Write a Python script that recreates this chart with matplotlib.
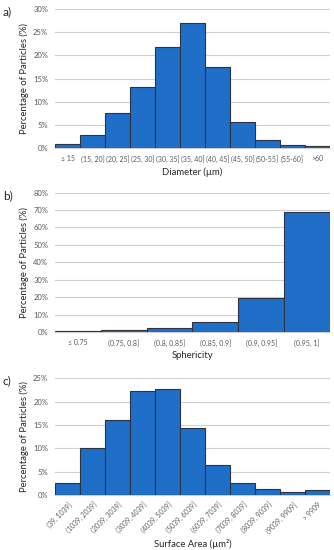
import numpy as np
import matplotlib.pyplot as plt
from matplotlib.ticker import PercentFormatter

plt.rcParams['font.family'] = ['Lato', 'DejaVu Sans']

# a) diameter
diam_cats = ['≤ 15', '(15, 20]', '(20, 25]', '(25, 30]', '(30, 35]', '(35, 40]',
             '(40, 45]', '(45, 50]', '(50-55]', '(55-60]', '>60']
diam_vals = [0.95, 2.8, 7.6, 13.2, 21.7, 27.0, 17.4, 5.7, 1.8, 0.7, 0.4]

# b) sphericity
sph_cats = ['≤ 0.75', '(0.75, 0.8]', '(0.8, 0.85]', '(0.85, 0.9]', '(0.9, 0.95]', '(0.95, 1]']
sph_vals = [0.8, 0.9, 2.1, 5.9, 19.3, 68.9]

# c) surface area
area_cats = ['(39, 1039]', '(1039, 2039]', '(2039, 3039]', '(3039, 4039]', '(4039, 5039]',
             '(5039, 6039]', '(6039, 7039]', '(7039, 8039]', '(8039, 9039]', '(9039, 9909]', '> 9909']
area_vals = [2.5, 10.1, 16.1, 22.3, 22.6, 14.4, 6.4, 2.5, 1.2, 0.6, 1.0]

bar_col = '#1F6FC8'
edge_col = '#2B3440'
tick_col = '#595959'

fig = plt.figure(figsize=(3.34, 5.5), dpi=100)

panels = [
    (diam_cats, diam_vals, 'Diameter (µm)', 30, 5, [0.1647, 0.7309, 0.823, 0.2527], 'a)', 0),
    (sph_cats, sph_vals, 'Sphericity', 80, 10, [0.1647, 0.3964, 0.823, 0.2533], 'b)', 0),
    (area_cats, area_vals, 'Surface Area (µm²)', 25, 5, [0.1647, 0.1, 0.823, 0.2122], 'c)', 45),
]

for cats, vals, xlabel, ymax, step, pos, tag, rot in panels:
    ax = fig.add_axes(pos)
    x = np.arange(len(cats))
    ax.bar(x, vals, width=1.0, color=bar_col, edgecolor=edge_col, linewidth=0.8, zorder=3)
    ax.set_xlim(-0.5, len(cats) - 0.5)
    ax.set_ylim(0, ymax)
    ax.set_yticks(np.arange(0, ymax + 0.1, step))
    ax.yaxis.set_major_formatter(PercentFormatter(decimals=0))
    ax.grid(axis='y', color='#D0D0D0', linewidth=0.8, zorder=0)
    for s in ['top', 'right', 'left']:
        ax.spines[s].set_visible(False)
    ax.spines['bottom'].set_color('#D0D0D0')
    ax.tick_params(length=0, labelsize=5.5, colors=tick_col, pad=5)
    ax.set_xticks(x)
    if rot:
        ax.set_xticklabels(cats, rotation=45, ha='right', rotation_mode='anchor', fontsize=5.0)
        ax.tick_params(axis='x', pad=4)
    else:
        ax.set_xticklabels(cats, fontsize=5.0)
        ax.tick_params(axis='x', pad=5)
    ax.set_xlabel(xlabel, fontsize=6.8, color='#262626', labelpad=3)
    ax.set_ylabel('Percentage of Particles (%)', fontsize=6.8, color='#262626', labelpad=3)
    fig.text(0.008, pos[1] + pos[3] + 0.005, tag, fontsize=8.5, color='#262626', va='top')

fig.savefig('out.png', dpi=100)
